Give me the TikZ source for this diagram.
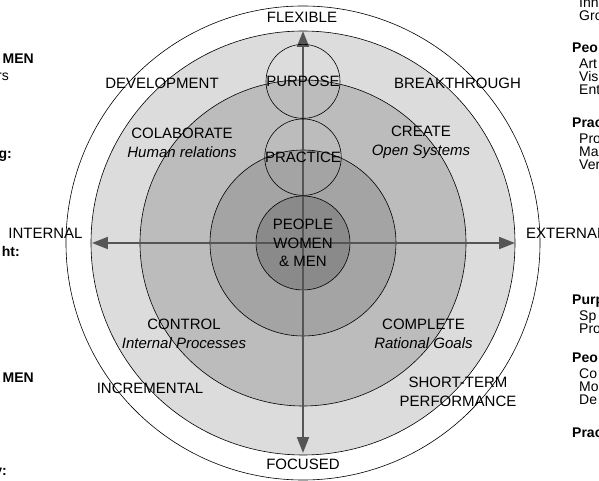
\documentclass[tikz,border=0pt]{standalone}
\usepackage{fontspec}
\setmainfont{Liberation Sans}
\usetikzlibrary{arrows.meta, positioning}
\definecolor{ringlight}{HTML}{DCDCDC}
\definecolor{ringmid}{HTML}{BCBCBC}
\definecolor{ringdark}{HTML}{A4A4A4}
\definecolor{corefill}{HTML}{8A8A8A}
\definecolor{axisgray}{HTML}{555555}
\tikzset{
    ring/.style={draw=black, line width=0.6pt},
    hub/.style={circle, draw=black, line width=0.6pt, fill=corefill, minimum size=94pt, inner sep=0pt},
    bubble/.style={circle, draw=black, line width=0.6pt, minimum size=74pt, inner sep=0pt, font=\fontsize{15}{18}\selectfont},
    axis/.style={{Triangle[length=16pt, width=12pt]}-{Triangle[length=16pt, width=12pt]}, line width=2pt, draw=axisgray, fill=axisgray},
    tag/.style={font=\fontsize{15}{19}\selectfont, align=center, inner sep=0pt},
    note/.style={font=\fontsize{14}{13}\selectfont, align=left, inner sep=0pt, anchor=north west},
    cut/.style={font=\fontsize{14}{13}\selectfont, inner sep=0pt, anchor=east}
}

\begin{document}
\begin{tikzpicture}[x=1pt, y=1pt]
    \useasboundingbox (-303,-238) rectangle (296,243);
    \clip (-303,-238) rectangle (296,243);
    % Rings, outermost first
    \filldraw[ring, fill=white] (0,0) circle (237);
    \filldraw[ring, fill=ringlight] (0,0) circle (212);
    \filldraw[ring, fill=ringmid] (0,0) circle (163);
    \filldraw[ring, fill=ringdark] (0,0) circle (93);
    % Core disc
    \node[hub] (people) at (0,0) {};
    % Axis ends on the light ring
    \coordinate (north) at (0,212);
    \coordinate (south) at (0,-210);
    \coordinate (west) at (-211,0);
    \coordinate (east) at (212,0);
    \draw[axis] (south) -- (north);
    \draw[axis] (west) -- (east);
    \node[tag, font=\fontsize{15}{18.7}\selectfont] (peopletext) at (people) {PEOPLE\\WOMEN\\\& MEN};
    % Stacked bubbles on the vertical axis
    \node[bubble, above=0pt of people] (practice) {PRACTICE};
    \node[bubble, above=0pt of practice] (purpose) {PURPOSE};

    % Ring labels
    \node[tag] (flexible) at (-1,226) {FLEXIBLE};
    \node[tag] (focused) at (0,-221) {FOCUSED};
    \node[tag] (internal) at (-257.5,10) {INTERNAL};
    \node[tag, anchor=west] (external) at (223,10) {EXTERNAL};
    \node[tag] (development) at (-141,160) {DEVELOPMENT};
    \node[tag] (breakthrough) at (154.5,160) {BREAKTHROUGH};
    \node[tag] (incremental) at (-153,-145) {INCREMENTAL};
    \node[tag] (shortterm) at (155,-148.5) {SHORT-TERM\\PERFORMANCE};
    % Quadrant labels
    \node[tag] (colaborate) at (-121,100.5) {COLABORATE\\\textit{Human relations}};
    \node[tag] (create) at (118,100.5) {CREATE\\\textit{Open Systems}};
    \node[tag] (control) at (-119,-91) {CONTROL\\\textit{Internal Processes}};
    \node[tag] (complete) at (120.5,-91) {COMPLETE\\\textit{Rational Goals}};

    % Side notes, running off the page
    \node[note] (notea) at (276,245) {Inn\\Gro};
    \node[note] (noteb) at (269,200) {\textbf{Peo}\\[3pt]\hspace*{7pt}Art\\\hspace*{7pt}Vis\\\hspace*{7pt}Ent};
    \node[note] (notec) at (269,125) {\textbf{Prac}\\[3pt]\hspace*{7pt}Pro\\\hspace*{7pt}Ma\\\hspace*{7pt}Ver};
    \node[note] (noted) at (269,-52) {\textbf{Purp}\\[3pt]\hspace*{7pt}Sp\\\hspace*{7pt}Pro};
    \node[note] (notee) at (269,-110) {\textbf{Peo}\\[3pt]\hspace*{7pt}Co\\\hspace*{7pt}Mo\\\hspace*{7pt}De};
    \node[note] (notef) at (269,-185) {\textbf{Prac}};
    \node[cut, font=\fontsize{14}{13}\bfseries] (cuta) at (-269,184) {MEN};
    \node[cut] (cutb) at (-294,166) {rs};
    \node[cut, font=\fontsize{14}{13}\bfseries] (cutc) at (-291,87) {g:};
    \node[cut, font=\fontsize{14}{13}\bfseries] (cutd) at (-283,-8) {ht:};
    \node[cut, font=\fontsize{14}{13}\bfseries] (cute) at (-269,-135) {MEN};
    \node[cut, font=\fontsize{14}{13}\bfseries] (cutf) at (-296,-230) {y:};
\end{tikzpicture}
\end{document}
